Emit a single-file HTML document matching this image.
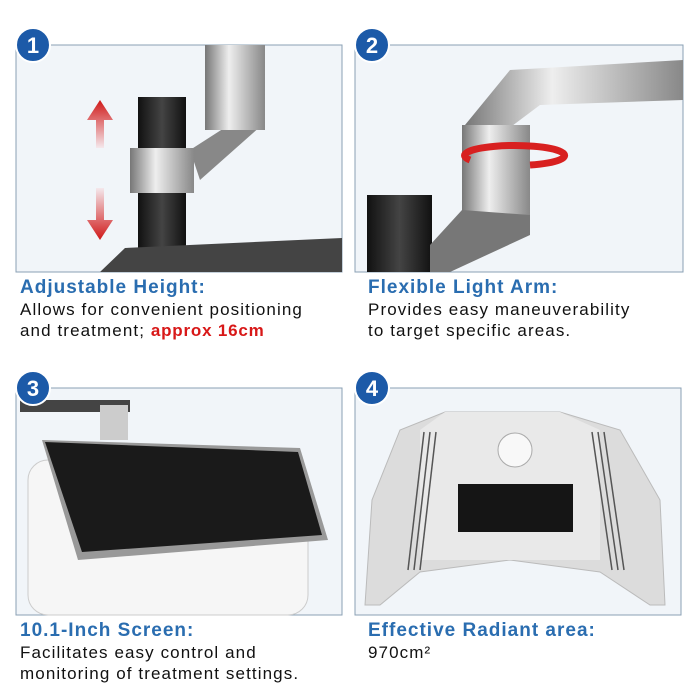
<!DOCTYPE html>
<html><head><style>
body{margin:0;width:700px;height:700px;background:#fff;overflow:hidden;font-family:"Liberation Sans",sans-serif;position:relative}
.t{position:absolute;font-weight:bold;color:#2a6db0;font-size:19px;letter-spacing:1px;white-space:nowrap}
.d{position:absolute;color:#111;font-size:17px;line-height:21px;letter-spacing:1.1px;white-space:nowrap}
</style></head><body>
<svg width="700" height="700" style="position:absolute;left:0;top:0">
<defs>
<linearGradient id="m" x1="0" x2="1"><stop offset="0" stop-color="#777"/><stop offset=".4" stop-color="#eee"/><stop offset="1" stop-color="#888"/></linearGradient>
<linearGradient id="k" x1="0" x2="1"><stop offset="0" stop-color="#111"/><stop offset=".5" stop-color="#444"/><stop offset="1" stop-color="#111"/></linearGradient>
<linearGradient id="ra" x1="0" y1="0" x2="0" y2="1"><stop offset="0" stop-color="#d01818"/><stop offset="1" stop-color="#f4e8ec"/></linearGradient>
<linearGradient id="rb" x1="0" y1="1" x2="0" y2="0"><stop offset="0" stop-color="#d01818"/><stop offset="1" stop-color="#f4e8ec"/></linearGradient>
</defs>
<rect x="16" y="45" width="326" height="227" fill="#f1f5f9" stroke="#8aa0b4"/>
<polygon points="190,150 260,105 262,125 200,180" fill="#888"/>
<rect x="205" y="45" width="60" height="50" fill="url(#m)"/>
<rect x="205" y="95" width="60" height="35" fill="url(#m)"/>
<rect x="138" y="97" width="48" height="175" fill="url(#k)"/>
<rect x="130" y="148" width="64" height="45" fill="url(#m)"/>
<polygon points="100,100 87,120 96,120 96,148 104,148 104,120 113,120" fill="url(#ra)"/>
<polygon points="100,240 87,220 96,220 96,188 104,188 104,220 113,220" fill="url(#rb)"/>
<polygon points="125,248 342,238 342,272 100,272" fill="#444"/>
<rect x="355" y="45" width="328" height="227" fill="#f1f5f9" stroke="#8aa0b4"/>
<polygon points="510,70 683,60 683,100 540,105 480,150 465,125" fill="url(#m)"/>
<rect x="462" y="125" width="68" height="100" fill="url(#m)"/>
<rect x="367" y="195" width="65" height="77" fill="url(#k)"/>
<polygon points="430,245 462,210 530,215 530,235 450,272 430,272" fill="#777"/>
<path d="M470,160 a50,10 0 1,1 60,5" stroke="#d82020" stroke-width="7" fill="none"/>
<rect x="16" y="388" width="326" height="227" fill="#f1f5f9" stroke="#8aa0b4"/>
<rect x="20" y="400" width="110" height="12" fill="#444"/>
<rect x="100" y="405" width="28" height="35" fill="#ccc"/>
<rect x="28" y="460" width="280" height="155" rx="20" fill="#f6f6f6" stroke="#ccc"/>
<polygon points="42,440 300,448 328,540 78,560" fill="#999"/>
<polygon points="45,442 298,452 322,535 82,552" fill="#1a1a1a"/>
<rect x="355" y="388" width="326" height="227" fill="#f1f5f9" stroke="#8aa0b4"/>
<polygon points="445,412 560,412 620,430 660,500 665,605 650,605 600,572 510,560 420,572 380,605 365,605 372,500 400,430" fill="#dcdcdc" stroke="#bbb"/>
<polygon points="445,412 560,412 600,430 600,560 420,560 420,430" fill="#e9e9e9"/>
<circle cx="515" cy="450" r="17" fill="#f8f8f8" stroke="#aaa"/>
<rect x="458" y="484" width="115" height="48" fill="#151515"/>
<g stroke="#555" stroke-width="1.5">
<line x1="424" y1="432" x2="408" y2="570"/><line x1="430" y1="432" x2="414" y2="570"/><line x1="436" y1="432" x2="420" y2="570"/>
<line x1="592" y1="432" x2="612" y2="570"/><line x1="598" y1="432" x2="618" y2="570"/><line x1="604" y1="432" x2="624" y2="570"/>
</g>
<g font-family="Liberation Sans" font-weight="bold" font-size="22" fill="#fff" text-anchor="middle">
<circle cx="33" cy="45" r="17" fill="#1c5aa8" stroke="#fff" stroke-width="2"/><text x="33" y="53">1</text>
<circle cx="372" cy="45" r="17" fill="#1c5aa8" stroke="#fff" stroke-width="2"/><text x="372" y="53">2</text>
<circle cx="33" cy="388" r="17" fill="#1c5aa8" stroke="#fff" stroke-width="2"/><text x="33" y="396">3</text>
<circle cx="372" cy="388" r="17" fill="#1c5aa8" stroke="#fff" stroke-width="2"/><text x="372" y="396">4</text>
</g>
</svg>
<div class="t" style="left:20px;top:277px">Adjustable Height:</div>
<div class="d" style="left:20px;top:299px">Allows for convenient positioning<br>and treatment; <b style="color:#d81818;font-size:17px;letter-spacing:0.8px">approx 16cm</b></div>
<div class="t" style="left:368px;top:277px">Flexible Light Arm:</div>
<div class="d" style="left:368px;top:299px">Provides easy maneuverability<br>to target specific areas.</div>
<div class="t" style="left:20px;top:620px">10.1-Inch Screen:</div>
<div class="d" style="left:20px;top:642px">Facilitates easy control and<br>monitoring of treatment settings.</div>
<div class="t" style="left:368px;top:620px">Effective Radiant area:</div>
<div class="d" style="left:368px;top:642px">970cm²</div>
</body></html>
